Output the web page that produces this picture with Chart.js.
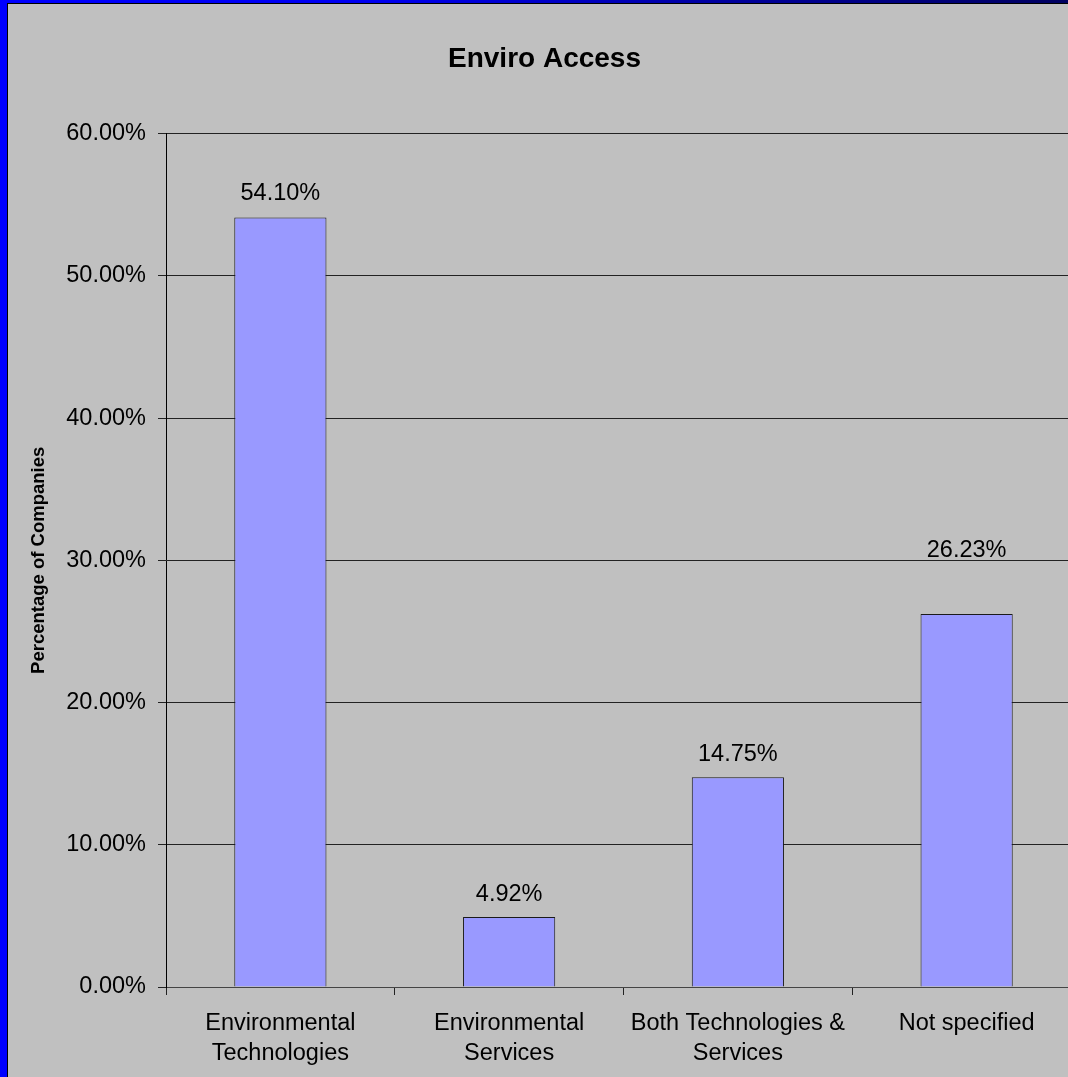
<!DOCTYPE html>
<html>
<head>
<meta charset="utf-8">
<title>Enviro Access</title>
<script src="https://cdn.jsdelivr.net/npm/chart.js@4/dist/chart.umd.min.js"></script>
<style>
  html, body {
    margin: 0;
    padding: 0;
    width: 1068px;
    height: 1077px;
    overflow: hidden;
    background: linear-gradient(90deg, #0000ff 0%, #0000f0 35%, #00009a 70%, #000060 100%);
  }
  .slide {
    position: absolute;
    left: 7px;
    top: 3px;
    width: 1130px;
    height: 1090px;
    border-left: 1px solid #000;
    border-top: 1px solid #000;
    background: #c0c0c0;
  }
  #chart {
    position: absolute;
    left: 0;
    top: 1px;
  }
</style>
</head>
<body>
<div class="slide">
  <canvas id="chart" width="1110" height="1072"></canvas>
</div>
<script>
const categories = [
  ['Environmental', 'Technologies'],
  ['Environmental', 'Services'],
  ['Both Technologies &', 'Services'],
  ['Not specified']
];
const shares = [54.10, 4.92, 14.75, 26.23];
const yMin = 0;
const yMax = 60;
const yStep = 10;

const FONT = `'Liberation Sans', Arial, Helvetica, sans-serif`;

Chart.defaults.color = `#000`;
Chart.defaults.font.family = FONT;

const valueLabels = {
  id: `valueLabels`,
  afterDatasetsDraw(chart, args, opts) {
    const ctx = chart.ctx;
    const meta = chart.getDatasetMeta(0);
    ctx.save();
    ctx.font = `${opts.size}px ${FONT}`;
    ctx.fillStyle = `#000`;
    ctx.textAlign = `center`;
    ctx.textBaseline = `middle`;
    meta.data.forEach((bar, i) => {
      const value = chart.data.datasets[0].data[i];
      ctx.fillText(`${value.toFixed(2)}%`, bar.x, bar.y - opts.lift[i]);
    });
    ctx.restore();
  }
};

const chart = new Chart(document.getElementById(`chart`), {
  type: `bar`,
  data: {
    labels: categories,
    datasets: [{
      label: `Percentage of Companies`,
      data: shares,
      backgroundColor: `#9999ff`,
      borderColor: `#1a1a1a`,
      borderWidth: 1,
      barPercentage: 0.403,
      categoryPercentage: 1
    }]
  },
  options: {
    responsive: false,
    animation: false,
    layout: {
      padding: {left: 0, right: 37, top: 0, bottom: 0}
    },
    plugins: {
      legend: {display: false},
      tooltip: {enabled: false},
      title: {
        display: true,
        text: `Enviro Access`,
        color: `#000`,
        font: {size: 28, weight: `bold`, family: FONT, lineHeight: 1.2},
        padding: {top: 37, bottom: 58}
      },
      valueLabels: {
        size: 23.5,
        lift: [24, 23, 23, 63]
      }
    },
    scales: {
      x: {
        type: `category`,
        grid: {
          display: true,
          offset: true,
          drawOnChartArea: false,
          drawTicks: true,
          tickLength: 8,
          color: `#222`
        },
        border: {display: true, color: `#444`, width: 1},
        ticks: {
          font: {size: 23.5, family: FONT, lineHeight: 1.28},
          color: `#000`,
          padding: 13,
          maxRotation: 0,
          minRotation: 0,
          autoSkip: false
        },
        afterFit(scale) {
          scale.height = 90;
        }
      },
      y: {
        min: yMin,
        max: yMax,
        grid: {
          color: `#222`,
          lineWidth: 1,
          drawTicks: true,
          tickLength: 8
        },
        border: {display: true, color: `#000`, width: 1},
        ticks: {
          stepSize: yStep,
          font: {size: 23.5, family: FONT},
          color: `#000`,
          padding: 12,
          callback: (v) => `${v.toFixed(2)}%`
        },
        title: {
          display: true,
          text: `Percentage of Companies`,
          color: `#000`,
          font: {size: 18.5, weight: `bold`, family: FONT, lineHeight: 1.2},
          padding: {top: 19.5, bottom: 0}
        },
        afterFit(scale) {
          scale.width = 158;
        }
      }
    }
  },
  plugins: [valueLabels]
});
</script>
</body>
</html>
